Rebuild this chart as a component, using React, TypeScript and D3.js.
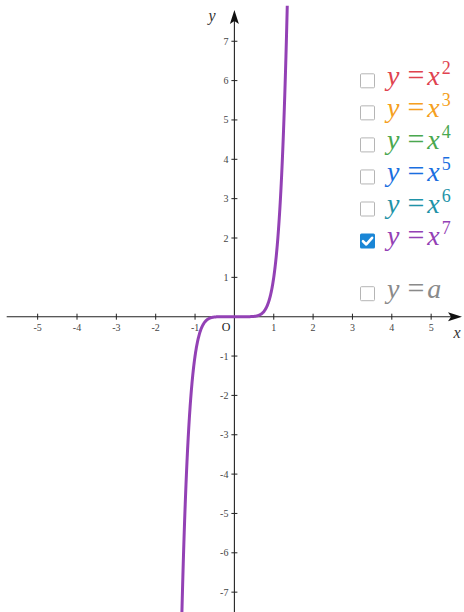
import React from "react";
import * as d3 from "d3";

const W = 464;
const H = 612;

const xTicks = [-5, -4, -3, -2, -1, 1, 2, 3, 4, 5];
const yTicks = [-7, -6, -5, -4, -3, -2, -1, 1, 2, 3, 4, 5, 6, 7];
const legendExps = ["2", "3", "4", "5", "6", "7"];
const legendColors = ["#e0434f", "#f5a020", "#4aa84f", "#1a6fe0", "#1f93a8", "#9341b5"];
const legendChecked = [false, false, false, false, false, true];
const activeExponent = 7;
const curveColor = "#9341b5";

const xScale = d3.scaleLinear().domain([-5, 5]).range([234.4 - 5 * 39.35, 234.4 + 5 * 39.35]);
const yScale = d3.scaleLinear().domain([-7, 7]).range([316.7 + 7 * 39.35, 316.7 - 7 * 39.35]);

const samples = d3.range(-1.5, 1.5001, 0.005);
const line = d3
  .line<number>()
  .x((d) => xScale(d))
  .y((d) => yScale(Math.pow(d, activeExponent)));

function Checkbox({ x, y, checked }: { x: number; y: number; checked: boolean }) {
  const s = 15;
  if (checked) {
    return (
      <g>
        <rect x={x - s / 2} y={y - s / 2} width={s} height={s} rx={1.5} fill="#1a86d6" />
        <path
          d={`M${x - 4.5},${y + 0.2} L${x - 1.2},${y + 3.4} L${x + 4.6},${y - 3.2}`}
          fill="none"
          stroke="#fff"
          strokeWidth={2.6}
          strokeLinecap="round"
          strokeLinejoin="round"
        />
      </g>
    );
  }
  return (
    <rect
      x={x - s / 2 + 0.5}
      y={y - s / 2 + 0.5}
      width={s - 1}
      height={s - 1}
      rx={1}
      fill="#fff"
      stroke="#b5b5b5"
      strokeWidth={1}
    />
  );
}

function Eq({ x, y, color, rhs, sup }: { x: number; y: number; color: string; rhs: string; sup?: string }) {
  return (
    <text x={x} y={y} fontSize={28} fill={color}>
      <tspan fontStyle="italic">y</tspan>
      <tspan dx={8} fontSize={30}>=</tspan>
      <tspan fontStyle="italic" dx={3}>
        {rhs}
      </tspan>
      {sup ? (
        <tspan fontSize={18} dy={-11} dx={2}>
          {sup}
        </tspan>
      ) : null}
    </text>
  );
}

export default function App() {
  const x0 = xScale(0);
  const y0 = yScale(0);
  const serif = "'Liberation Serif', 'DejaVu Serif', serif";
  const rowY = (i: number) => 80.8 + i * 32.05;
  return (
    <svg
      width={W}
      height={H}
      style={{ position: "absolute", left: 0, top: 0, background: "#fff" }}
      fontFamily={serif}
    >
      <defs>
        <clipPath id="plotclip">
          <rect x={0} y={yScale(7.9)} width={W} height={H} />
        </clipPath>
      </defs>
      {/* x axis */}
      <line x1={6.7} x2={455} y1={y0} y2={y0} stroke="#222" strokeWidth={1.1} />
      <path d={`M${462},${y0} L${448},${y0 - 4.5} L${451},${y0} L${448},${y0 + 4.5} Z`} fill="#111" />
      {/* y axis */}
      <line x1={x0} x2={x0} y1={H} y2={18} stroke="#222" strokeWidth={1.1} />
      <path d={`M${x0},${10} L${x0 - 4.5},${24} L${x0},${21} L${x0 + 4.5},${24} Z`} fill="#111" />
      {/* x ticks */}
      {xTicks.map((t) => (
        <g key={"xt" + t}>
          <line x1={xScale(t)} x2={xScale(t)} y1={y0 - 3} y2={y0 + 3} stroke="#222" strokeWidth={1} />
          <text x={xScale(t)} y={y0 + 14} fontSize={10} fill="#444" textAnchor="middle">
            {t}
          </text>
        </g>
      ))}
      {/* y ticks */}
      {yTicks.map((t) => (
        <g key={"yt" + t}>
          <line x1={x0 - 3} x2={x0 + 3} y1={yScale(t)} y2={yScale(t)} stroke="#222" strokeWidth={1} />
          <text x={x0 - 6} y={yScale(t) + 3.5} fontSize={10} fill="#444" textAnchor="end">
            {t}
          </text>
        </g>
      ))}
      <text x={226} y={y0 + 14} fontSize={12} fill="#222" textAnchor="middle">
        O
      </text>
      <text x={457} y={338} fontSize={16} fontStyle="italic" fill="#333" textAnchor="middle">
        x
      </text>
      <text x={212} y={21} fontSize={16} fontStyle="italic" fill="#333" textAnchor="middle">
        y
      </text>
      {/* curve */}
      <path
        d={line(samples) || ""}
        fill="none"
        stroke={curveColor}
        strokeWidth={3}
        clipPath="url(#plotclip)"
      />
      {/* legend */}
      {legendExps.map((e, i) => (
        <g key={"lg" + e}>
          <Checkbox x={367.5} y={rowY(i)} checked={legendChecked[i]} />
          <Eq x={387} y={rowY(i) + 4} color={legendColors[i]} rhs="x" sup={e} />
        </g>
      ))}
      <g>
        <Checkbox x={367.5} y={293.7} checked={false} />
        <Eq x={387} y={293.7 + 4} color="#8a8a8a" rhs="a" />
      </g>
    </svg>
  );
}
